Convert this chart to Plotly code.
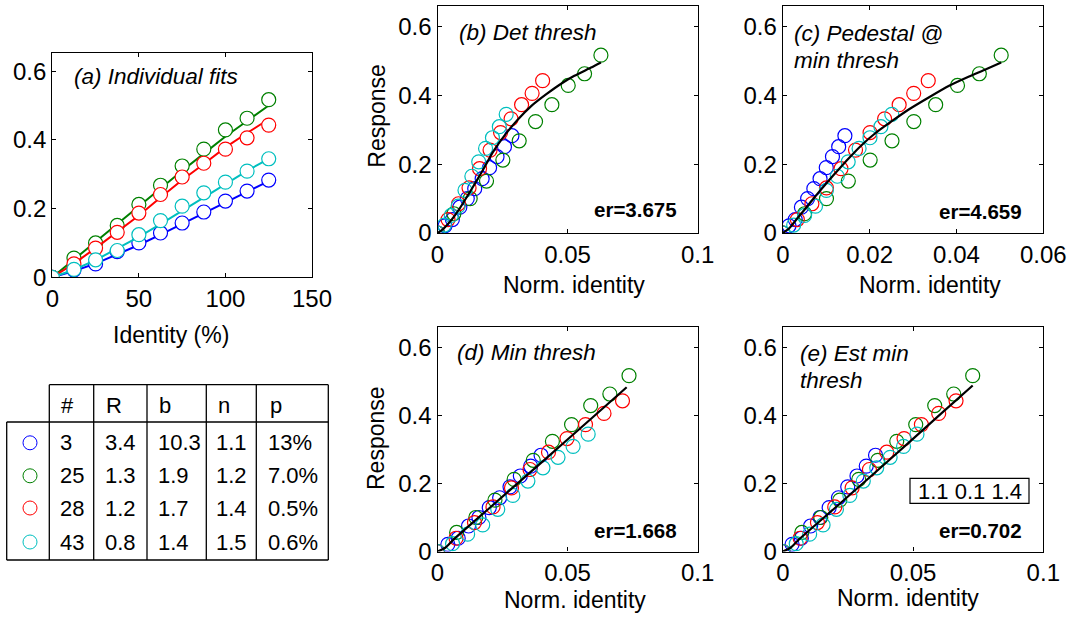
import plotly.graph_objects as go

W, H = 1070, 618

# ---------------- data ----------------
identity_pct = [0, 12.5, 25, 37.5, 50, 62.5, 75, 87.5, 100, 112.5, 125]
subjects = ["3", "25", "28", "43"]
colors = ["#0000ff", "#008000", "#ff0000", "#00bfbf"]

resp_blue = [0, 0.021, 0.039, 0.075, 0.100, 0.129, 0.158, 0.190, 0.222, 0.251, 0.283]
resp_green = [0, 0.056, 0.100, 0.151, 0.212, 0.268, 0.324, 0.373, 0.429, 0.463, 0.517]
resp_red = [0, 0.039, 0.085, 0.131, 0.187, 0.241, 0.292, 0.332, 0.373, 0.406, 0.443]
resp_cyan = [0, 0.023, 0.051, 0.078, 0.124, 0.165, 0.207, 0.246, 0.277, 0.309, 0.345]
responses = [resp_blue, resp_green, resp_red, resp_cyan]

fit_blue = [0, 0.018, 0.040, 0.066, 0.094, 0.124, 0.155, 0.187, 0.218, 0.250, 0.280]
fit_green = [0, 0.052, 0.104, 0.156, 0.208, 0.260, 0.310, 0.360, 0.410, 0.455, 0.500]
fit_red = [0, 0.040, 0.085, 0.132, 0.180, 0.232, 0.283, 0.330, 0.378, 0.420, 0.460]
fit_cyan = [0, 0.022, 0.050, 0.083, 0.118, 0.155, 0.194, 0.233, 0.272, 0.310, 0.345]
fits_a = [fit_blue, fit_green, fit_red, fit_cyan]

# normalized identity reached at 125 % identity, per subject (blue, green, red, cyan)
norm_end_b = [0.0286, 0.0628, 0.0404, 0.0264]
norm_end_c = [0.0143, 0.0503, 0.0335, 0.0251]
norm_end_d = [0.0398, 0.0736, 0.0711, 0.0579]
norm_end_e = [0.0356, 0.0729, 0.0665, 0.0515]

# common fitted curves (black)
curve_b_x = [0, 0.0013, 0.0047, 0.0085, 0.0117, 0.0149, 0.0181, 0.0213, 0.0245, 0.0309, 0.0360, 0.0417, 0.0481, 0.0526, 0.0590, 0.0628]
curve_b_y = [0, 0.006, 0.032, 0.071, 0.110, 0.150, 0.192, 0.235, 0.271, 0.330, 0.369, 0.403, 0.437, 0.457, 0.481, 0.496]
curve_c_x = [0, 0.0015, 0.0035, 0.0058, 0.0081, 0.0104, 0.0128, 0.0151, 0.0182, 0.0213, 0.0251, 0.0290, 0.0336, 0.0383, 0.0429, 0.0468, 0.0503]
curve_c_y = [0, 0.014, 0.045, 0.080, 0.116, 0.150, 0.184, 0.216, 0.256, 0.290, 0.325, 0.359, 0.394, 0.428, 0.455, 0.476, 0.496]
curve_d_x = [0, 0.003, 0.006, 0.020, 0.040, 0.060, 0.0727]
curve_d_y = [0, 0.011, 0.034, 0.128, 0.262, 0.397, 0.483]
curve_e_x = [0, 0.003, 0.006, 0.020, 0.040, 0.060, 0.0729]
curve_e_y = [0, 0.011, 0.034, 0.128, 0.263, 0.400, 0.488]

err_labels = ["er=3.675", "er=4.659", "er=1.668", "er=0.702"]
param_box_text = "1.1 0.1 1.4"

# table
tbl_header = ["#", "R", "b", "n", "p"]
tbl_R = ["3.4", "1.3", "1.2", "0.8"]
tbl_b = ["10.3", "1.9", "1.7", "1.4"]
tbl_n = ["1.1", "1.2", "1.4", "1.5"]
tbl_p = ["13%", "7.0%", "0.5%", "0.6%"]

# ticks
ytick_vals = [0, 0.2, 0.4, 0.6]
ytick_text = ["0", "0.2", "0.4", "0.6"]
xa_vals = [0, 50, 100, 150]
xa_text = ["0", "50", "100", "150"]
x01_vals = [0, 0.05, 0.1]
x01_text = ["0", "0.05", "0.1"]
x006_vals = [0, 0.02, 0.04, 0.06]
x006_text = ["0", "0.02", "0.04", "0.06"]

# ---------------- layout helpers ----------------
FONT = "Liberation Sans, Arial, sans-serif"


def dom_x(a, b):
    return [a / W, b / W]


def dom_y(top, bottom):
    return [1 - bottom / H, 1 - top / H]


fig = go.Figure()

axis_common = dict(showline=True, linecolor="black", linewidth=1.3, mirror="ticks",
                   ticks="inside", ticklen=4, tickwidth=1, tickcolor="black",
                   showgrid=False, zeroline=False, automargin=False,
                   tickfont=dict(family=FONT, size=24, color="black"))

panels = {
    "a": dict(x=(52.3, 312.0), y=(53.3, 277.3), xr=[0, 150], yr=[0, 0.652], xt=(xa_vals, xa_text)),
    "b": dict(x=(437.5, 697.7), y=(6.0, 233.0), xr=[0, 0.1], yr=[0, 0.66], xt=(x01_vals, x01_text)),
    "c": dict(x=(782.8, 1043.3), y=(6.0, 233.0), xr=[0, 0.06], yr=[0, 0.66], xt=(x006_vals, x006_text)),
    "d": dict(x=(437.5, 697.7), y=(327.0, 551.5), xr=[0, 0.1], yr=[0, 0.66], xt=(x01_vals, x01_text)),
    "e": dict(x=(782.8, 1043.3), y=(327.0, 551.5), xr=[0, 0.1], yr=[0, 0.66], xt=(x01_vals, x01_text)),
}

layout_axes = {}
axis_ids = {}
for i, (key, p) in enumerate(panels.items(), start=1):
    sfx = "" if i == 1 else str(i)
    layout_axes["xaxis" + sfx] = dict(axis_common, domain=dom_x(*p["x"]), range=p["xr"],
                                      tickvals=p["xt"][0], ticktext=p["xt"][1], anchor="y" + sfx)
    layout_axes["yaxis" + sfx] = dict(axis_common, domain=dom_y(*p["y"]), range=p["yr"],
                                      tickvals=ytick_vals, ticktext=ytick_text, anchor="x" + sfx)
    axis_ids[key] = ("x" + sfx, "y" + sfx)

# overlay pixel axis for table and text
layout_axes["xaxis6"] = dict(domain=[0, 1], range=[0, W], visible=False, anchor="y6",
                             fixedrange=True, automargin=False)
layout_axes["yaxis6"] = dict(domain=[0, 1], range=[H, 0], visible=False, anchor="x6",
                             fixedrange=True, automargin=False)

# ---------------- panel (a) ----------------
xa, ya = axis_ids["a"]
for s in range(4):
    fig.add_trace(go.Scatter(x=identity_pct, y=fits_a[s], mode="lines",
                             line=dict(color=colors[s], width=2), xaxis=xa, yaxis=ya, showlegend=False))
    fig.add_trace(go.Scatter(x=identity_pct, y=responses[s], mode="markers",
                             marker=dict(symbol="circle", size=14, color="white",
                                         line=dict(width=1.2, color=colors[s])),
                             xaxis=xa, yaxis=ya, showlegend=False))

# ---------------- panels (b)-(e) ----------------
norm_ends = {"b": norm_end_b, "c": norm_end_c, "d": norm_end_d, "e": norm_end_e}
curves = {"b": (curve_b_x, curve_b_y), "c": (curve_c_x, curve_c_y),
          "d": (curve_d_x, curve_d_y), "e": (curve_e_x, curve_e_y)}
for key in ["b", "c", "d", "e"]:
    xk, yk = axis_ids[key]
    for s in range(4):
        xs = [v / identity_pct[-1] * norm_ends[key][s] for v in identity_pct]
        fig.add_trace(go.Scatter(x=xs, y=responses[s], mode="markers",
                                 marker=dict(symbol="circle-open", size=14, color=colors[s], line=dict(width=1.2)),
                                 xaxis=xk, yaxis=yk, showlegend=False))
    fig.add_trace(go.Scatter(x=curves[key][0], y=curves[key][1], mode="lines",
                             line=dict(color="black", width=2.2, shape="spline", smoothing=0.6),
                             xaxis=xk, yaxis=yk, showlegend=False))

# ---------------- table ----------------
row_y = [442.8, 475.8, 508.0, 542.0]
fig.add_trace(go.Scatter(x=[30] * 4, y=row_y, mode="markers",
                         marker=dict(symbol="circle-open", size=14, color=colors, line=dict(width=1)),
                         xaxis="x6", yaxis="y6", showlegend=False))

shapes = []
LW = 1.3


def pline(x0, y0, x1, y1):
    shapes.append(dict(type="line", xref="x6", yref="y6", x0=x0, y0=y0, x1=x1, y1=y1,
                       line=dict(color="black", width=LW)))


t_top, t_mid, t_bot = 384.7, 422.0, 560.0
t_left, t_right = 6.7, 328.3
col_x = [49.3, 93.7, 147.0, 206.3, 256.3]
pline(col_x[0], t_top, t_right, t_top)
pline(t_left, t_mid, t_right, t_mid)
pline(t_left, t_bot, t_right, t_bot)
pline(t_left, t_mid, t_left, t_bot)
for cx in col_x + [t_right]:
    pline(cx, t_top, cx, t_bot)

# param box in panel (e)
shapes.append(dict(type="rect", xref="x6", yref="y6", x0=910, x1=1029, y0=478.3, y1=503.3,
                   line=dict(color="black", width=1.2), fillcolor="rgba(0,0,0,0)"))

annotations = []


def txt(x, y, s, size=22, anchor="left", angle=0, bold=False, italic=False):
    if italic:
        s = "<i>" + s + "</i>"
    if bold:
        s = "<b>" + s + "</b>"
    annotations.append(dict(x=x, y=y, xref="x6", yref="y6", text=s, showarrow=False,
                            xanchor=anchor, yanchor="middle", textangle=angle,
                            font=dict(family=FONT, size=size, color="black")))


text_left = [57.5, 102.5, 155.5, 214.0, 266.0]
for j, h in enumerate(tbl_header):
    txt(text_left[j] + 1.5, 405, h)
cols = [subjects, tbl_R, tbl_b, tbl_n, tbl_p]
for j, col in enumerate(cols):
    for r, v in enumerate(col):
        txt(text_left[j], row_y[r], v)

# panel titles
txt(71.5, 76, "(a) Individual fits", size=22.5, italic=True)
txt(456.5, 32.5, "(b) Det thresh", size=22.5, italic=True)
txt(791.5, 33, "(c) Pedestal @", size=22.5, italic=True)
txt(791.5, 60.5, "min thresh", size=22.5, italic=True)
txt(455, 352.5, "(d) Min thresh", size=22.5, italic=True)
txt(798, 353.5, "(e) Est min", size=22.5, italic=True)
txt(798, 380.5, "thresh", size=22.5, italic=True)

# error labels
txt(679, 209.5, err_labels[0], size=20.5, anchor="right", bold=True)
txt(1024, 211.5, err_labels[1], size=20.5, anchor="right", bold=True)
txt(679, 530, err_labels[2], size=20.5, anchor="right", bold=True)
txt(1024, 530, err_labels[3], size=20.5, anchor="right", bold=True)

txt(969.5, 491, param_box_text, size=22, anchor="center")

# axis titles
txt(171, 335, "Identity (%)", size=23, anchor="center")
txt(574, 285, "Norm. identity", size=23, anchor="center")
txt(929.7, 285, "Norm. identity", size=23, anchor="center")
txt(575, 599.5, "Norm. identity", size=23, anchor="center")
txt(908.3, 597.5, "Norm. identity", size=23, anchor="center")
txt(376.7, 116, "Response", size=23, anchor="center", angle=-90)
txt(376.7, 438.3, "Response", size=23, anchor="center", angle=-90)

fig.update_layout(width=W, height=H, margin=dict(l=0, r=0, t=0, b=0),
                  paper_bgcolor="white", plot_bgcolor="rgba(0,0,0,0)",
                  shapes=shapes, annotations=annotations, showlegend=False,
                  **layout_axes)

fig.write_html("out.html", config={"displayModeBar": False},
               post_script="document.body.style.margin='0';document.body.style.overflow='hidden';")
